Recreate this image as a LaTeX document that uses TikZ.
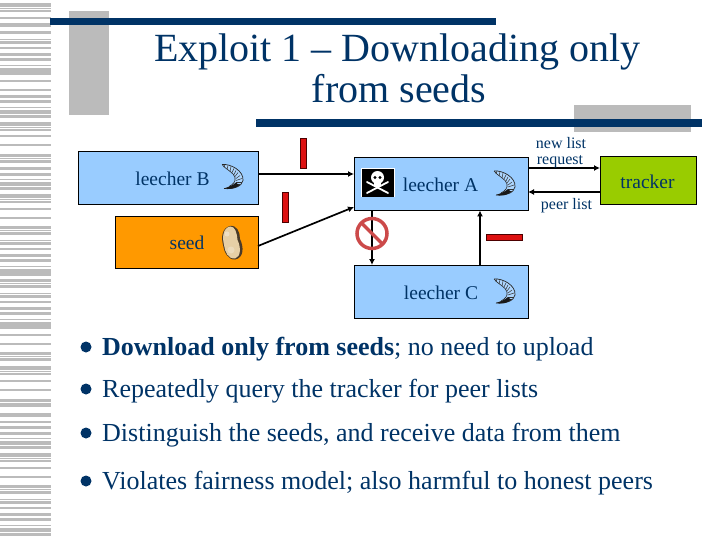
\documentclass[tikz,border=0pt]{standalone}
\usepackage{fontspec}
\setmainfont{Liberation Serif}
\usepackage{xcolor}
\usetikzlibrary{arrows.meta,positioning}
\definecolor{slidenavy}{HTML}{003366}
\definecolor{slidegray}{HTML}{BBBBBB}
\definecolor{peerblue}{HTML}{99CCFF}
\definecolor{seedorange}{HTML}{FF9900}
\definecolor{trackergreen}{HTML}{99CC00}
\definecolor{tokenred}{HTML}{DD1111}
\definecolor{forbidred}{HTML}{CC4A4A}
\definecolor{beanlight}{HTML}{E6CFA6}
\definecolor{beandark}{HTML}{4A3A28}
\tikzset{
    stripe/.style={fill=slidegray},
    peerbox/.style={draw=black,line width=0.9pt,outer sep=0pt,inner sep=0pt},
    boxtext/.style={text=slidenavy,font=\fontsize{19.5}{20}\selectfont},
    smalltext/.style={text=slidenavy,inner sep=0pt,font=\fontsize{16}{16}\selectfont},
    itemtext/.style={text=slidenavy,anchor=base west,inner sep=0pt,font=\fontsize{26}{27}\selectfont},
    itemdot/.style={circle,fill=slidenavy,minimum size=11pt,inner sep=0pt},
    token/.style={fill=tokenred,draw=black!70!red,line width=0.3pt},
    link/.style={draw=black,line width=1.7pt,-{Latex[length=6pt,width=6pt]}},
    shrimp/.pic={
            \fill[white,opacity=0.2] (1,1) .. controls (9,0) and (23,7) .. (22,17) .. controls (21,23) and (12,26) .. (3,25) .. controls (9,22) and (15,20) .. (14,14) .. controls (13,9) and (6,7) .. (1,1);
            \draw[black!85,line width=0.7pt] (1,1) .. controls (9,0) and (23,7) .. (22,17) .. controls (21,23) and (12,26) .. (3,25);
            \draw[black!85,line width=0.6pt] (1,1) .. controls (6,7) and (13,9) .. (14,14) .. controls (15,18) and (12,21) .. (8,23);
            \foreach \a/\b/\c/\d in {4/1/3/4,7/2/6/6,10/3/9/8,13/5/11/9,15/7/13/11,17/9/14/13,19/12/15/15,21/15/15/17,21/19/15/19,19/21/14/21} {
                    \draw[black!80,line width=0.5pt] (\a,\b) -- (\c,\d);
                }
            \fill[black!90] (3,25) .. controls (8,23) and (12,22) .. (15,19) -- (18,22) .. controls (14,25) and (9,26) .. (3,25) -- cycle;
        }
}

\begin{document}
\begin{tikzpicture}[x=1pt,y=-1pt]
    \useasboundingbox (0,0) rectangle (720,540);
    \foreach \y/\h in {3.3/3.7,8/1,10/2,17/2,23/4,31/3,39.5/1,41/3,47/2,53/3,58/3,65/1,68/7,80/2,89/2,95/3,100/3,107/1,110/4,115/3,122/4,127/1,129/2,135/2,144/2,154/3,158/1,160/3,167/3,173/3,179/1,
            182/4,187/3,194/4,199/1,201/2,208/2,217/2,226/3,230/1,232/3,240/1,242/3,248/2,254/3,259/3,266/1,269/7,279/3,283/1,285/3,293/1,295/3,301/2,307/3,312/3,319/1,322/7,334/2,343/2,352/3,356/1,358/3,
            366/4,371/1,373/2,380/2,389/2,399/3,403/4,413/4,421/2,426/3,432/3,438/1,441/4,446/3,453/4,458/1,460/2,467/2,476/2,485/3,489/1,491/3,499/1,501/3,507/2,513/3,518/3,525/1,528/4,533/3} {
            \fill[stripe] (0,\y) rectangle (51,\y+\h);
        }

    \fill[slidegray] (69,11) rectangle (109,115);
    \fill[slidegray] (574,105) rectangle (691,132.5);
    \fill[slidenavy] (50,18) rectangle (496,25);
    \fill[slidenavy] (256,119) rectangle (702,127);
    \node[text=slidenavy,align=center,font=\fontsize{40}{41}\selectfont] (title) at (397.5,68) {Exploit 1 -- Downloading only\\\hspace*{3pt}from seeds};

    \node[peerbox,fill=peerblue,minimum width=180pt,minimum height=53pt] (leecherB) at (168,177.5) {};
    \node[peerbox,fill=seedorange,minimum width=143pt,minimum height=52pt] (seed) at (186.5,242) {};
    \node[peerbox,fill=peerblue,minimum width=174pt,minimum height=53pt] (leecherA) at (441,184) {};
    \node[peerbox,fill=peerblue,minimum width=174pt,minimum height=53pt] (leecherC) at (441,291.5) {};
    \node[peerbox,fill=trackergreen,minimum width=96pt,minimum height=48pt] (tracker) at (648,180) {};

    \node[boxtext] (labelB) at (172.5,179) {leecher B};
    \node[boxtext] (labelSeed) at (187,243) {seed};
    \node[boxtext] (labelA) at (440.5,185) {leecher A};
    \node[boxtext] (labelC) at (441,293) {leecher C};
    \node[boxtext] (labelTracker) at (647.5,182) {tracker};

    \draw[link] ([yshift=3.5pt]leecherB.east) -- ([yshift=10pt]leecherA.west);
    \draw[link] ([yshift=-4pt]seed.east) -- ([yshift=-23pt]leecherA.west);
    \draw[link] ([xshift=-69pt]leecherA.south) -- ([xshift=-69pt]leecherC.north);
    \draw[link] ([xshift=39pt]leecherC.north) -- ([xshift=39pt]leecherA.south);
    \draw[link] ([yshift=16pt]leecherA.east) -- ([yshift=12pt]tracker.west);
    \draw[link] ([yshift=-12pt]tracker.west) -- ([yshift=-8pt]leecherA.east);

    \node[smalltext] (newlist) at (561,143.5) {new list};
    \node[smalltext] (request) at (560,162) {request};
    \node[smalltext] (peerlist) at (566.5,205.5) {peer list};

    \fill[token] (300.5,138) rectangle (306.5,168);
    \fill[token] (282.5,192) rectangle (288.5,222);
    \fill[token] (486,234) rectangle (522,240);

    \draw[forbidred,line width=3.5pt] (372,233.5) circle (15pt);
    \draw[forbidred,line width=3.5pt] (361.5,223) -- (382.5,244);

    \pic at (221,163.5) {shrimp};
    \pic at (493,170) {shrimp};
    \pic at (493,278) {shrimp};

    \fill[white] (360.5,168) rectangle (394.5,197.5);
    \fill[black] (361.5,169) rectangle (393.5,197);
    \draw[white,line width=1.8pt,line cap=round] (367,182) -- (388,193);
    \draw[white,line width=1.8pt,line cap=round] (388,182) -- (367,193);
    \fill[white] (377.5,177.5) circle (6.5pt);
    \fill[white] (374,181) rectangle (381,187.5);
    \fill[black] (375,177.5) circle (1.6pt);
    \fill[black] (380,177.5) circle (1.6pt);

    \fill[beandark] (230,226) .. controls (237,225) and (240,232) .. (240,239) .. controls (244,247) and (244,258) .. (235,259.5) .. controls (228,260) and (224,252) .. (223,245) .. controls (221,237) and (222,228) .. (230,226) -- cycle;
    \fill[beanlight] (230,226.5) .. controls (235,226) and (237,233) .. (237.5,240) .. controls (241,247) and (241,257) .. (235,258.5) .. controls (228,259) and (225,252) .. (224,245) .. controls (222,237) and (223,228) .. (230,226.5) -- cycle;
    \fill[white,opacity=0.35] (227,234) circle (2.5pt);
    \fill[white,opacity=0.25] (231,250) circle (3.5pt);

    \node[itemdot] (dot1) at (86,347) {};
    \node[itemdot] (dot2) at (86,389) {};
    \node[itemdot] (dot3) at (86,433) {};
    \node[itemdot] (dot4) at (86,481) {};
    \node[itemtext] (item1) at (102,355) {\textbf{Download only from seeds}; no need to upload};
    \node[itemtext] (item2) at (102,397) {Repeatedly query the tracker for peer lists};
    \node[itemtext] (item3) at (102,441) {Distinguish the seeds, and receive data from them};
    \node[itemtext] (item4) at (102,489) {Violates fairness model; also harmful to honest peers};
\end{tikzpicture}
\end{document}
